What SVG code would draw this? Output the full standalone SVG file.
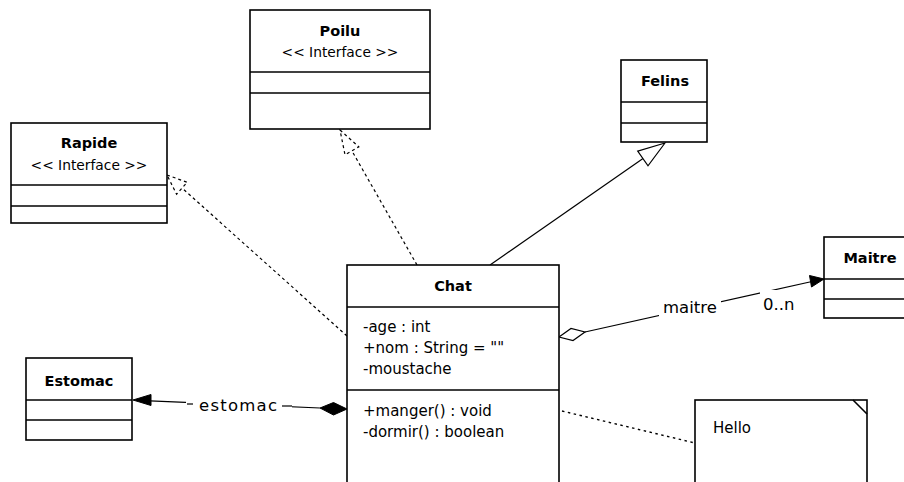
<svg xmlns="http://www.w3.org/2000/svg" width="904" height="482" viewBox="0 0 904 482">
  <style>
    .box { fill: #fff; stroke: #000; stroke-width: 1.6; }
    .sep { stroke: #000; stroke-width: 1.6; fill: none; }
    .title { font-family: "DejaVu Sans", sans-serif; font-size: 14.5px; font-weight: bold; text-anchor: middle; fill: #000; }
    .stereo { font-family: "DejaVu Sans", sans-serif; font-size: 13.8px; text-anchor: middle; fill: #000; }
    .member { font-family: "DejaVu Sans", sans-serif; font-size: 15px; fill: #000; }
    .label { font-family: "DejaVu Sans", sans-serif; font-size: 16.5px; fill: #000; }
    .link { stroke: #000; stroke-width: 1.2; fill: none; }
    .dash { stroke: #000; stroke-width: 1.2; fill: none; stroke-dasharray: 3 3; }
    .dot { stroke: #000; stroke-width: 1.4; fill: none; stroke-dasharray: 2.5 3.5; }
    .hollow { fill: #fff; stroke: #000; stroke-width: 1.2; }
    .solid { fill: #000; stroke: #000; stroke-width: 1; }
    .bg { fill: #fff; stroke: none; }
  </style>

  <rect width="904" height="482" fill="#fff"/>

  <!-- connectors -->
  <g id="connectors">
    <!-- Chat realizes Rapide -->
    <line class="dash" x1="347" y1="336" x2="182" y2="188"/>
    <polygon class="hollow" points="167,175 187.2,182.3 176.6,194.3" stroke-dasharray="3 3"/>

    <!-- Chat realizes Poilu -->
    <line class="dash" x1="417" y1="265" x2="352" y2="151"/>
    <polygon class="hollow" points="340,130 358.8,146.8 345,154.8" stroke-dasharray="3 3"/>

    <!-- Chat extends Felins -->
    <line class="link" x1="490" y1="265" x2="643" y2="158.5"/>
    <polygon class="hollow" points="665,143 648,165.8 637.7,151.1"/>

    <!-- aggregation Chat -> Maitre -->
    <line class="link" x1="585" y1="332" x2="812" y2="281.5"/>
    <polygon class="hollow" points="559,337 571,328.5 585,332 573,340.5"/>
    <polygon class="solid" points="824,279 809.5,275.5 811.5,287"/>
    <rect class="bg" x="659" y="295" width="62" height="24"/>
    <text class="label" x="663" y="313">maitre</text>
    <rect class="bg" x="760" y="290" width="38" height="24"/>
    <text class="label" x="763" y="310">0..n</text>

    <!-- composition Chat -> Estomac -->
    <line class="link" x1="150" y1="400.8" x2="320" y2="408"/>
    <polygon class="solid" points="133,400 151,394.5 151,405.5"/>
    <polygon class="solid" points="347,409 333.5,402.5 320,408 333.5,415"/>
    <rect class="bg" x="186" y="393" width="106" height="22"/>
    <line class="link" x1="187" y1="404" x2="193" y2="404"/>
    <text class="label" x="199" y="411" textLength="78" lengthAdjust="spacing">estomac</text>
    <line class="link" x1="282" y1="406" x2="292" y2="406"/>

    <!-- note anchor -->
    <line class="dot" x1="562" y1="411" x2="695" y2="443"/>
  </g>

  <!-- Poilu -->
  <g id="poilu">
    <rect class="box" x="250" y="10" width="180" height="119"/>
    <text class="title" x="340" y="36">Poilu</text>
    <text class="stereo" x="340" y="57">&lt;&lt; Interface &gt;&gt;</text>
    <line class="sep" x1="250" y1="72" x2="430" y2="72"/>
    <line class="sep" x1="250" y1="93" x2="430" y2="93"/>
  </g>

  <!-- Rapide -->
  <g id="rapide">
    <rect class="box" x="11" y="123" width="156" height="100"/>
    <text class="title" x="89" y="148">Rapide</text>
    <text class="stereo" x="89" y="170">&lt;&lt; Interface &gt;&gt;</text>
    <line class="sep" x1="11" y1="185" x2="167" y2="185"/>
    <line class="sep" x1="11" y1="206" x2="167" y2="206"/>
  </g>

  <!-- Felins -->
  <g id="felins">
    <rect class="box" x="621" y="60" width="86" height="82"/>
    <text class="title" x="665" y="86">Felins</text>
    <line class="sep" x1="621" y1="102" x2="707" y2="102"/>
    <line class="sep" x1="621" y1="123" x2="707" y2="123"/>
  </g>

  <!-- Maitre -->
  <g id="maitre">
    <rect class="box" x="824" y="237" width="92" height="81"/>
    <text class="title" x="870" y="263">Maitre</text>
    <line class="sep" x1="824" y1="279" x2="916" y2="279"/>
    <line class="sep" x1="824" y1="299" x2="916" y2="299"/>
  </g>

  <!-- Estomac -->
  <g id="estomac">
    <rect class="box" x="26" y="358" width="106" height="82"/>
    <text class="title" x="79" y="386">Estomac</text>
    <line class="sep" x1="26" y1="400" x2="132" y2="400"/>
    <line class="sep" x1="26" y1="420" x2="132" y2="420"/>
  </g>

  <!-- Chat -->
  <g id="chat">
    <rect class="box" x="347" y="265" width="212" height="230"/>
    <text class="title" x="453" y="291">Chat</text>
    <line class="sep" x1="347" y1="307" x2="559" y2="307"/>
    <text class="member" x="363" y="332">-age : int</text>
    <text class="member" x="363" y="353">+nom : String = ""</text>
    <text class="member" x="363" y="374">-moustache</text>
    <line class="sep" x1="347" y1="390" x2="559" y2="390"/>
    <text class="member" x="363" y="416">+manger() : void</text>
    <text class="member" x="363" y="437">-dormir() : boolean</text>
  </g>

  <!-- Note -->
  <g id="note">
    <rect class="box" x="695" y="400" width="172" height="100"/>
    <line class="sep" x1="853" y1="400" x2="867" y2="414"/>
    <text class="member" x="713" y="433">Hello</text>
  </g>
</svg>
